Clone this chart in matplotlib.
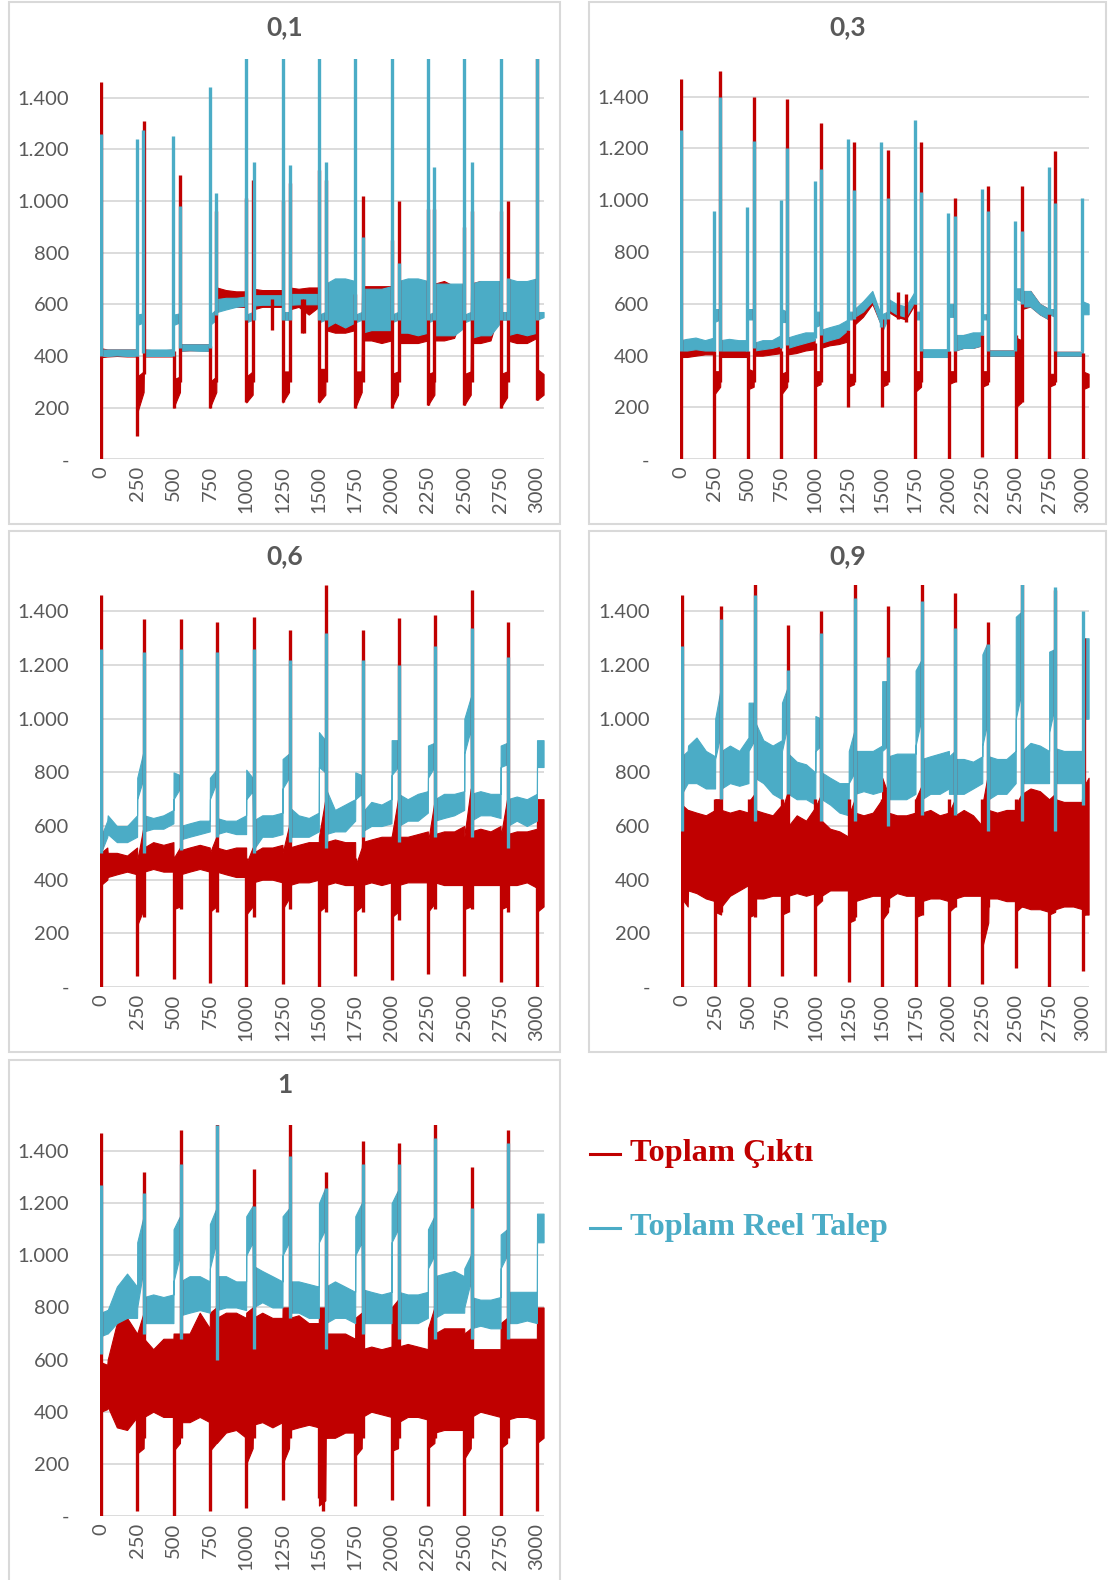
import matplotlib
matplotlib.use("Agg")
import matplotlib.pyplot as plt
from matplotlib.lines import Line2D
from matplotlib.patches import Rectangle
from matplotlib.ticker import FuncFormatter

RED = "#C00000"
BLUE = "#4BACC6"
GRID = "#D9D9D9"
TEXT = "#595959"

# Shared time knots: each 250-step cycle has a short post-shock window and a main stretch.
knots = [0, 44, 47, 110, 180, 249,
         250, 294, 297, 360, 430, 499,
         500, 544, 547, 610, 680, 749,
         750, 794, 797, 860, 930, 999,
         1000, 1044, 1047, 1110, 1180, 1249,
         1250, 1294, 1297, 1360, 1430, 1499,
         1500, 1544, 1547, 1610, 1680, 1749,
         1750, 1794, 1797, 1860, 1930, 1999,
         2000, 2044, 2047, 2110, 2180, 2249,
         2250, 2294, 2297, 2360, 2430, 2499,
         2500, 2544, 2547, 2610, 2680, 2749,
         2750, 2794, 2797, 2860, 2930, 2999,
         3000, 3045]

x_ticks = [0, 250, 500, 750, 1000, 1250, 1500, 1750, 2000, 2250, 2500, 2750, 3000]
y_ticks = [0, 200, 400, 600, 800, 1000, 1200, 1400]
titles = ["0,1", "0,3", "0,6", "0,9", "1"]
series_names = ["Toplam Çıktı", "Toplam Reel Talep"]

# ---------------- 0,1 ----------------
p1_out_lo = [395, 398, 398, 400, 398, 398,
             180, 260, 398, 398, 398, 398,
             200, 260, 420, 422, 422, 420,
             200, 260, 575, 590, 590, 590,
             220, 250, 580, 590, 590, 590,
             220, 260, 580, 590, 560, 590,
             220, 250, 500, 490, 490, 500,
             200, 260, 460, 460, 450, 460,
             200, 250, 450, 450, 450, 460,
             210, 250, 460, 460, 470, 580,
             210, 250, 450, 450, 460, 590,
             200, 240, 460, 450, 450, 470,
             230, 250]
p1_out_hi = [430, 425, 425, 425, 425, 425,
             320, 340, 425, 422, 422, 425,
             310, 320, 445, 445, 445, 445,
             300, 320, 665, 655, 650, 650,
             320, 340, 660, 655, 655, 655,
             340, 340, 665, 660, 665, 665,
             350, 350, 670, 690, 690, 680,
             340, 340, 670, 670, 670, 670,
             330, 340, 680, 680, 680, 690,
             330, 340, 680, 690, 670, 670,
             330, 340, 680, 690, 680, 650,
             330, 340, 670, 670, 670, 670,
             350, 330]
p1_dem_lo = [400, 400, 400, 402, 400, 400,
             520, 530, 400, 400, 400, 400,
             520, 530, 420, 422, 420, 420,
             520, 540, 570, 580, 590, 595,
             530, 540, 595, 598, 598, 598,
             540, 540, 598, 600, 600, 600,
             530, 540, 510, 530, 510, 530,
             530, 540, 490, 500, 500, 500,
             530, 540, 490, 490, 480, 490,
             530, 540, 480, 480, 480, 510,
             530, 540, 470, 480, 480, 530,
             540, 540, 480, 490, 480, 490,
             540, 550]
p1_dem_hi = [425, 425, 425, 425, 425, 425,
             560, 565, 425, 425, 425, 425,
             560, 565, 445, 445, 445, 445,
             560, 580, 620, 625, 625, 630,
             560, 570, 635, 635, 635, 635,
             570, 570, 640, 640, 640, 640,
             560, 570, 680, 700, 700, 690,
             560, 570, 660, 660, 660, 670,
             560, 570, 690, 700, 700, 690,
             560, 570, 680, 680, 680, 680,
             560, 570, 680, 690, 690, 690,
             570, 570, 700, 690, 690, 700,
             570, 570]
p1_out_sx = [0, 250, 295, 500, 545, 750, 795, 1000, 1048, 1180, 1250, 1298, 1385, 1400,
             1500, 1550, 1750, 1800, 2000, 2050, 2250, 2290, 2500, 2550, 2750, 2800, 3000]
p1_out_slo = [0, 90, 330, 200, 300, 200, 300, 220, 300, 500, 220, 300, 490, 490,
              220, 300, 200, 300, 200, 300, 210, 300, 210, 300, 200, 300, 230]
p1_out_shi = [1460, 400, 1310, 420, 1100, 440, 960, 1010, 1080, 620, 1000, 1070, 620, 620,
              1120, 1080, 640, 1020, 850, 1000, 970, 970, 900, 960, 960, 1000, 1600]
p1_dem_sx = [0, 248, 290, 493, 545, 748, 790, 1000, 1050, 1250, 1300, 1500, 1550,
             1750, 1800, 2000, 2050, 2250, 2290, 2500, 2550, 2750, 2800, 3000]
p1_dem_slo = [400, 400, 410, 400, 430, 430, 560, 540, 540, 540, 540, 540, 540,
              540, 540, 540, 540, 540, 540, 540, 540, 540, 540, 540]
p1_dem_shi = [1260, 1240, 1275, 1250, 980, 1440, 1030, 1600, 1150, 1600, 1140, 1600, 1150,
              1600, 860, 1600, 760, 1600, 1130, 1600, 1150, 1600, 700, 1600]

# ---------------- 0,3 ----------------
p2_out_lo = [395, 395, 395, 400, 405, 405,
             250, 280, 395, 395, 395, 395,
             270, 280, 400, 400, 405, 410,
             250, 280, 405, 410, 420, 425,
             280, 290, 430, 440, 445, 455,
             280, 290, 520, 550, 600, 515,
             280, 290, 570, 550, 540, 600,
             260, 280, 400, 400, 400, 400,
             290, 300, 420, 430, 430, 440,
             280, 290, 400, 400, 400, 400,
             200, 220, 580, 590, 560, 540,
             280, 290, 400, 400, 400, 400,
             270, 280]
p2_out_hi = [430, 430, 430, 430, 430, 435,
             340, 340, 425, 425, 425, 425,
             350, 340, 425, 430, 430, 440,
             330, 340, 440, 445, 455, 465,
             340, 340, 470, 470, 480, 500,
             330, 330, 560, 580, 640, 545,
             340, 340, 610, 590, 580, 640,
             340, 340, 420, 420, 420, 420,
             340, 340, 470, 480, 480, 490,
             340, 340, 420, 420, 420, 420,
             470, 460, 640, 650, 600, 580,
             330, 330, 415, 415, 415, 415,
             340, 330]
p2_dem_lo = [420, 420, 420, 425, 420, 420,
             530, 540, 420, 420, 420, 420,
             540, 540, 420, 425, 430, 440,
             530, 530, 430, 440, 450, 460,
             510, 520, 450, 460, 470, 500,
             540, 540, 550, 570, 610, 510,
             490, 540, 580, 560, 550, 610,
             540, 540, 395, 395, 395, 395,
             550, 550, 420, 430, 430, 440,
             540, 540, 400, 400, 400, 400,
             620, 610, 590, 590, 560, 540,
             560, 550, 400, 400, 400, 400,
             560, 560]
p2_dem_hi = [460, 465, 465, 470, 460, 470,
             580, 580, 460, 465, 460, 460,
             580, 580, 450, 460, 460, 480,
             580, 570, 470, 480, 490, 490,
             570, 570, 500, 510, 520, 540,
             570, 570, 580, 610, 650, 550,
             560, 570, 620, 600, 590, 650,
             570, 570, 425, 425, 425, 425,
             600, 600, 480, 480, 490, 490,
             560, 560, 420, 420, 420, 420,
             660, 660, 650, 650, 600, 580,
             580, 580, 415, 415, 415, 415,
             610, 600]
p2_out_sx = [0, 250, 292, 500, 545, 750, 795, 1000, 1045, 1250, 1295, 1500, 1550, 1620, 1680,
             1750, 1795, 2000, 2045, 2250, 2295, 2500, 2545, 2750, 2795, 3000]
p2_out_slo = [0, 0, 300, 0, 300, 0, 300, 0, 300, 200, 300, 200, 300, 540, 530,
              0, 300, 0, 300, 10, 300, 0, 220, 0, 300, 0]
p2_out_shi = [1470, 420, 1500, 420, 1400, 420, 1390, 450, 1300, 500, 1225, 540, 1195, 645, 640,
              600, 1225, 420, 1010, 480, 1055, 480, 1055, 560, 1190, 410]
p2_dem_sx = [0, 248, 292, 497, 545, 748, 795, 1000, 1045, 1248, 1295, 1498, 1550,
             1748, 1795, 1998, 2045, 2248, 2295, 2498, 2545, 2748, 2795, 2998]
p2_dem_slo = [420, 420, 420, 420, 430, 430, 440, 470, 480, 500, 540, 510, 540,
              600, 420, 420, 420, 480, 420, 420, 600, 560, 420, 420]
p2_dem_shi = [1270, 960, 1400, 975, 1230, 1000, 1200, 1075, 1120, 1235, 1040, 1225, 1010,
              1310, 1030, 950, 940, 1045, 960, 920, 880, 1130, 990, 1010]

# ---------------- 0,6 ----------------
p3_out_lo = [380, 400, 410, 420, 430, 420,
             230, 290, 430, 440, 430, 430,
             290, 300, 420, 430, 440, 430,
             280, 300, 430, 420, 410, 410,
             270, 300, 390, 400, 400, 390,
             290, 330, 380, 390, 390, 400,
             280, 300, 380, 390, 380, 380,
             280, 300, 380, 390, 380, 390,
             260, 280, 380, 390, 390, 390,
             280, 310, 390, 380, 380, 380,
             290, 300, 380, 380, 380, 380,
             290, 300, 380, 380, 390, 370,
             280, 300]
p3_out_hi = [500, 520, 500, 500, 490, 520,
             470, 600, 520, 540, 530, 540,
             480, 520, 510, 520, 530, 520,
             500, 560, 520, 510, 520, 520,
             460, 520, 500, 520, 520, 530,
             500, 600, 520, 530, 540, 540,
             560, 700, 540, 550, 540, 540,
             450, 520, 540, 550, 560, 560,
             560, 700, 560, 560, 570, 580,
             540, 690, 570, 580, 580, 600,
             560, 740, 580, 590, 580, 600,
             560, 700, 570, 580, 580, 590,
             700, 700]
p3_dem_lo = [500, 560, 570, 540, 540, 560,
             700, 780, 580, 590, 590, 610,
             700, 740, 550, 560, 570, 580,
             700, 760, 570, 580, 570, 570,
             700, 730, 510, 560, 560, 570,
             740, 780, 560, 560, 560, 580,
             820, 800, 570, 580, 580, 620,
             700, 720, 580, 600, 600, 610,
             790, 820, 600, 620, 620, 650,
             780, 820, 620, 630, 640, 660,
             870, 960, 620, 640, 640, 630,
             820, 830, 600, 620, 600, 620,
             820, 820]
p3_dem_hi = [560, 620, 640, 600, 600, 640,
             780, 880, 640, 630, 640, 660,
             800, 790, 600, 610, 620, 620,
             780, 810, 630, 620, 620, 640,
             810, 780, 620, 640, 640, 650,
             850, 870, 670, 640, 630, 650,
             950, 920, 740, 660, 680, 700,
             800, 790, 650, 690, 680, 700,
             920, 920, 720, 700, 720, 730,
             900, 910, 700, 720, 720, 730,
             1000, 1080, 720, 730, 720, 720,
             900, 910, 700, 710, 700, 720,
             920, 920]
p3_out_sx = [0, 250, 300, 500, 550, 750, 797, 1000, 1050, 1250, 1300, 1500, 1550,
             1750, 1800, 2000, 2050, 2250, 2300, 2500, 2550, 2750, 2800, 3000]
p3_out_slo = [0, 40, 260, 30, 290, 15, 280, 0, 260, 10, 290, 0, 280,
              40, 280, 25, 250, 50, 290, 40, 290, 20, 280, 0]
p3_out_shi = [1460, 480, 1370, 480, 1370, 480, 1360, 480, 1380, 480, 1330, 480, 1500,
              480, 1330, 480, 1375, 480, 1385, 480, 1480, 480, 1360, 480]
p3_dem_sx = [0, 300, 550, 797, 1050, 1300, 1550, 1800, 2050, 2300, 2550, 2800]
p3_dem_slo = [500, 500, 510, 560, 500, 540, 520, 560, 540, 560, 560, 520]
p3_dem_shi = [1260, 1250, 1260, 1250, 1260, 1220, 1320, 1220, 1200, 1270, 1340, 1230]

# ---------------- 0,9 ----------------
p4_out_lo = [330, 300, 360, 350, 330, 320,
             280, 270, 300, 340, 360, 380,
             260, 270, 330, 330, 340, 340,
             270, 280, 340, 350, 340, 350,
             300, 320, 340, 360, 360, 360,
             240, 250, 320, 330, 340, 340,
             250, 280, 330, 350, 340, 340,
             260, 270, 320, 330, 330, 320,
             280, 300, 330, 340, 340, 340,
             150, 240, 330, 330, 320, 320,
             280, 300, 300, 290, 290, 280,
             270, 280, 290, 300, 300, 290,
             270, 270]
p4_out_hi = [680, 660, 660, 650, 640, 660,
             700, 700, 660, 650, 660, 650,
             690, 720, 660, 650, 640, 680,
             660, 730, 600, 640, 620, 670,
             670, 720, 620, 590, 580, 560,
             640, 700, 650, 640, 650, 700,
             780, 720, 650, 640, 640, 650,
             700, 750, 650, 660, 640, 650,
             650, 700, 640, 660, 640, 600,
             680, 800, 660, 650, 660, 660,
             680, 720, 720, 740, 730, 700,
             700, 720, 700, 690, 690, 690,
             740, 780]
p4_dem_lo = [720, 760, 760, 760, 740, 740,
             850, 950, 740, 760, 750, 760,
             880, 920, 780, 760, 720, 700,
             880, 980, 720, 700, 700, 680,
             880, 900, 700, 680, 650, 640,
             760, 800, 720, 730, 720, 730,
             880, 900, 700, 700, 700, 720,
             900, 1000, 700, 720, 720, 740,
             720, 720, 720, 720, 740, 760,
             900, 1000, 700, 720, 720, 760,
             1000, 1100, 760, 760, 760, 760,
             950, 1050, 760, 760, 760, 760,
             1000, 1000]
p4_dem_hi = [860, 880, 900, 930, 880, 860,
             1000, 1120, 880, 900, 880, 930,
             1060, 1060, 990, 920, 900, 920,
             1060, 1120, 870, 840, 830, 800,
             1010, 1000, 800, 780, 760, 760,
             880, 960, 880, 880, 880, 900,
             1140, 1140, 860, 870, 870, 870,
             1180, 1220, 850, 860, 870, 880,
             860, 880, 850, 850, 840, 860,
             1240, 1290, 860, 850, 850, 880,
             1380, 1400, 880, 910, 900, 880,
             1250, 1260, 890, 880, 880, 880,
             1300, 1300]
p4_out_sx = [0, 250, 295, 500, 545, 750, 795, 1000, 1045, 1250, 1295, 1500, 1545,
             1750, 1795, 2000, 2045, 2250, 2295, 2500, 2545, 2750, 2795, 3000, 3010]
p4_out_slo = [0, 0, 280, 0, 260, 40, 280, 40, 320, 20, 260, 0, 300,
              0, 270, 0, 300, 10, 300, 70, 300, 0, 300, 60, 270]
p4_out_shi = [1460, 700, 1420, 700, 1520, 700, 1350, 700, 1400, 700, 1520, 700, 1420,
              700, 1520, 700, 1470, 700, 1360, 700, 1520, 700, 1480, 700, 1300]
p4_dem_sx = [0, 295, 545, 795, 1045, 1295, 1545, 1795, 2045, 2295, 2545, 2795, 3005]
p4_dem_slo = [580, 700, 620, 720, 620, 620, 600, 640, 640, 580, 620, 580, 680]
p4_dem_shi = [1270, 1370, 1460, 1180, 1320, 1450, 1230, 1440, 1340, 1280, 1520, 1490, 1400]

# ---------------- 1 ----------------
p5_out_lo = [400, 410, 420, 340, 330, 380,
             240, 260, 380, 400, 380, 380,
             250, 280, 360, 360, 380, 360,
             250, 280, 280, 320, 330, 300,
             200, 260, 350, 360, 340, 360,
             200, 260, 330, 340, 350, 340,
             40, 60, 300, 300, 320, 320,
             230, 260, 380, 400, 390, 380,
             250, 260, 360, 380, 380, 370,
             260, 280, 320, 330, 330, 330,
             220, 260, 380, 400, 390, 380,
             260, 280, 370, 380, 380, 370,
             280, 300]
p5_out_hi = [590, 580, 600, 740, 760, 700,
             700, 780, 680, 640, 680, 680,
             700, 700, 700, 700, 780, 720,
             780, 800, 760, 780, 780, 760,
             780, 800, 760, 780, 760, 760,
             800, 800, 760, 770, 740, 740,
             800, 800, 700, 700, 700, 680,
             760, 780, 640, 650, 640, 650,
             800, 830, 650, 660, 650, 640,
             720, 800, 700, 720, 720, 720,
             700, 720, 640, 640, 640, 640,
             740, 760, 680, 680, 680, 680,
             800, 800]
p5_dem_lo = [690, 700, 700, 740, 760, 760,
             800, 950, 740, 740, 740, 740,
             900, 1000, 770, 780, 790, 780,
             950, 1050, 790, 800, 800, 790,
             1000, 1050, 800, 820, 800, 800,
             1000, 1050, 780, 780, 760, 760,
             1050, 1100, 740, 760, 760, 740,
             1000, 1050, 740, 740, 740, 740,
             1050, 1100, 740, 740, 740, 760,
             950, 1000, 760, 780, 780, 780,
             800, 900, 720, 730, 720, 720,
             950, 1000, 740, 740, 750, 740,
             1050, 1050]
p5_dem_hi = [780, 790, 790, 880, 930, 880,
             1050, 1150, 840, 850, 840, 850,
             1100, 1150, 900, 920, 920, 900,
             1120, 1180, 920, 920, 900, 900,
             1150, 1190, 960, 940, 920, 900,
             1150, 1180, 900, 900, 890, 880,
             1200, 1260, 880, 900, 880, 860,
             1150, 1200, 870, 860, 850, 860,
             1200, 1250, 860, 850, 850, 860,
             1100, 1150, 920, 930, 940, 920,
             950, 1000, 840, 830, 830, 840,
             1080, 1100, 860, 860, 860, 860,
             1160, 1160]
p5_out_sx = [0, 250, 300, 500, 550, 750, 800, 1000, 1050, 1250, 1300, 1500, 1530, 1550,
             1750, 1800, 2000, 2050, 2250, 2300, 2500, 2550, 2750, 2800, 3000]
p5_out_slo = [0, 20, 300, 0, 300, 20, 300, 30, 300, 60, 300, 70, 20, 300,
              40, 300, 60, 300, 40, 300, 0, 300, 0, 300, 20]
p5_out_shi = [1470, 600, 1320, 600, 1480, 600, 1520, 600, 1330, 600, 1520, 600, 600, 1320,
              600, 1440, 600, 1430, 600, 1520, 600, 1340, 600, 1480, 600]
p5_dem_sx = [0, 300, 550, 800, 1050, 1300, 1550, 1800, 2050, 2300, 2550, 2800]
p5_dem_slo = [620, 700, 680, 600, 640, 760, 640, 700, 680, 680, 680, 680]
p5_dem_shi = [1270, 1240, 1350, 1500, 1190, 1380, 1260, 1350, 1350, 1450, 1180, 1430]

panels = [
    dict(title=titles[0], ymax=1550,
         out=(p1_out_lo, p1_out_hi, p1_out_sx, p1_out_slo, p1_out_shi),
         dem=(p1_dem_lo, p1_dem_hi, p1_dem_sx, p1_dem_slo, p1_dem_shi),
         box=(9, 2, 560, 524), area=(100, 544, 58.8, 459.3)),
    dict(title=titles[1], ymax=1550,
         out=(p2_out_lo, p2_out_hi, p2_out_sx, p2_out_slo, p2_out_shi),
         dem=(p2_dem_lo, p2_dem_hi, p2_dem_sx, p2_dem_slo, p2_dem_shi),
         box=(589, 2, 1106, 524), area=(680, 1089, 57.8, 459.3)),
    dict(title=titles[2], ymax=1500,
         out=(p3_out_lo, p3_out_hi, p3_out_sx, p3_out_slo, p3_out_shi),
         dem=(p3_dem_lo, p3_dem_hi, p3_dem_sx, p3_dem_slo, p3_dem_shi),
         box=(9, 531, 560, 1052), area=(100, 544, 584.6, 987)),
    dict(title=titles[3], ymax=1500,
         out=(p4_out_lo, p4_out_hi, p4_out_sx, p4_out_slo, p4_out_shi),
         dem=(p4_dem_lo, p4_dem_hi, p4_dem_sx, p4_dem_slo, p4_dem_shi),
         box=(589, 531, 1106, 1052), area=(681, 1089, 584.6, 987)),
    dict(title=titles[4], ymax=1500,
         out=(p5_out_lo, p5_out_hi, p5_out_sx, p5_out_slo, p5_out_shi),
         dem=(p5_dem_lo, p5_dem_hi, p5_dem_sx, p5_dem_slo, p5_dem_shi),
         box=(9, 1060, 560, 1585), area=(100, 544, 1125, 1516)),
]

W, H = 1117, 1580
fig = plt.figure(figsize=(W / 100, H / 100), dpi=100)
fig.patch.set_facecolor("white")


def fx(px):
    return px / W


def fy(py):
    return 1 - py / H


def y_label(v, _pos):
    if v == 0:
        return "-"
    return f"{int(v):,}".replace(",", ".")


def draw_series(ax, data, color):
    lo, hi, sx, slo, shi = data
    ax.fill_between(knots, lo, hi, color=color, lw=0.8, edgecolor=color, zorder=2)
    ax.vlines(sx, slo, shi, color=color, lw=2.4, zorder=3)


for p in panels:
    bx0, by0, bx1, by1 = p["box"]
    fig.add_artist(Rectangle((fx(bx0), fy(by1)), fx(bx1 - bx0), (by1 - by0) / H,
                             transform=fig.transFigure, facecolor="white",
                             edgecolor=GRID, lw=1.5, zorder=0))
    left, right, top, bottom = p["area"]
    ax = fig.add_axes([fx(left), fy(bottom), fx(right - left), (bottom - top) / H])
    ax.set_facecolor("none")
    draw_series(ax, p["out"], RED)
    draw_series(ax, p["dem"], BLUE)
    ax.set_xlim(-6, 3048)
    ax.set_ylim(0, p["ymax"])
    ax.set_yticks(y_ticks)
    ax.yaxis.set_major_formatter(FuncFormatter(y_label))
    ax.set_xticks(x_ticks)
    ax.set_xticklabels([str(v) for v in x_ticks], rotation=90)
    ax.grid(axis="y", color=GRID, lw=1.3, zorder=0)
    ax.set_axisbelow(True)
    for s in ax.spines.values():
        s.set_visible(False)
    ax.tick_params(axis="y", length=0, pad=22, labelsize=14.5, labelcolor=TEXT)
    ax.tick_params(axis="x", length=0, pad=5, labelsize=14.5, labelcolor=TEXT)
    for lab in ax.get_xticklabels() + ax.get_yticklabels():
        lab.set_family("Lato")
    cx = (bx0 + bx1) / 2
    fig.text(fx(cx), fy(by0 + 25), p["title"], ha="center", va="center",
             fontsize=19, fontweight="bold", color=TEXT, family="Lato")

# Series key
for name, color, ly in [(series_names[0], RED, 1154), (series_names[1], BLUE, 1228)]:
    fig.add_artist(Line2D([fx(590), fx(620)], [fy(ly), fy(ly)], color=color, lw=2.2,
                          transform=fig.transFigure))
    fig.text(fx(630), fy(ly), name, ha="left", va="center", fontsize=23.3,
             fontweight="bold", color=color, family="Liberation Serif")

fig.savefig("out.png", dpi=100, facecolor="white")
